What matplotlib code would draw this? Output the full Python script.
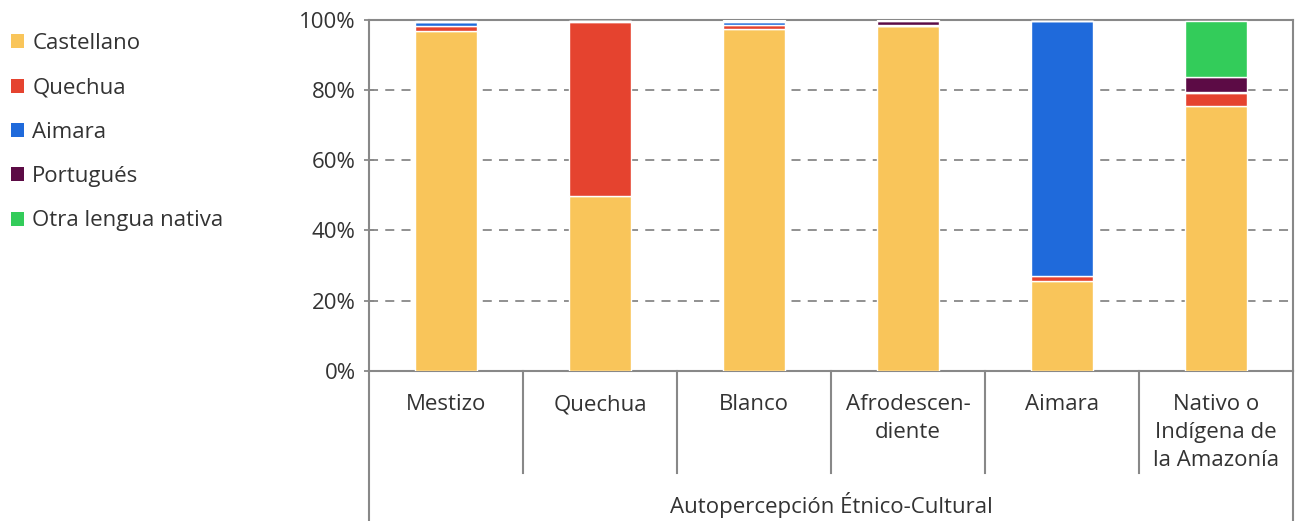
import matplotlib
matplotlib.use("Agg")
import matplotlib.pyplot as plt
import numpy as np
from matplotlib.lines import Line2D
from matplotlib.patches import Patch

categories = ["Mestizo", "Quechua", "Blanco", "Afrodescen-\ndiente", "Aimara",
              "Nativo o\nIndígena de\nla Amazonía"]
series_names = ["Castellano", "Quechua", "Aimara", "Portugués", "Otra lengua nativa"]
castellano = [96.6, 49.9, 97.4, 98.1, 25.7, 75.3]
quechua = [1.6, 49.4, 1.0, 0.1, 1.2, 3.9]
aimara = [1.0, 0.2, 1.0, 0.1, 72.8, 0.1]
portugues = [0.2, 0.1, 0.2, 1.4, 0.0, 4.3]
otra = [0.3, 0.1, 0.2, 0.1, 0.0, 16.0]
colors = ["#F9C55A", "#E5432F", "#1F6ADB", "#5C0B45", "#33CC5A"]
yticks = [0, 20, 40, 60, 80, 100]
xlabel = "Autopercepción Étnico-Cultural"

plt.rcParams['font.family'] = ['Open Sans', 'DejaVu Sans']
txt = "#333333"
FS = 16
W, H = 1297, 521
fig = plt.figure(figsize=(W / 100, H / 100), dpi=100)
ax = fig.add_axes([369 / W, 1 - 371 / H, (1293 - 369) / W, (371 - 19.5) / H])

x = np.arange(len(categories))
bottom = np.zeros(len(categories))
for vals, c, name in zip([castellano, quechua, aimara, portugues, otra], colors, series_names):
    ax.bar(x, vals, 0.4, bottom=bottom, color=c, edgecolor="white", linewidth=1.0, zorder=3, label=name)
    bottom += np.array(vals)

ax.set_xlim(-0.5, len(categories) - 0.5)
ax.set_ylim(0, 100)
ax.set_yticks(yticks)
ax.set_yticklabels([f"{v}%" for v in yticks], fontsize=FS, color=txt)
ax.set_xticks([])
for v in yticks[1:-1]:
    ax.axhline(v, color="#888888", lw=1.3, ls=(0, (5, 4)), zorder=1)
for s in ["left", "right", "top", "bottom"]:
    ax.spines[s].set_color("#888888")
    ax.spines[s].set_linewidth(1.5)
ax.tick_params(axis="y", length=7, width=1.3, color="#888888", direction="inout", pad=6)

def fy(pix):
    return 1 - pix / H
trans = matplotlib.transforms.blended_transform_factory(ax.transData, fig.transFigure)
for b in np.arange(0.5, len(categories) - 0.5, 1.0):
    fig.add_artist(Line2D([b, b], [fy(371), fy(473)], transform=trans, color="#888888", lw=1.5))
for b in [-0.5, len(categories) - 0.5]:
    fig.add_artist(Line2D([b, b], [fy(371), fy(521)], transform=trans, color="#888888", lw=1.5))
for i, c in enumerate(categories):
    fig.text(i, fy(394), c, transform=trans, ha="center", va="top", fontsize=FS,
             color=txt, linespacing=1.45)
fig.text(0.5 * (len(categories) - 1), fy(505), xlabel, transform=trans, ha="center",
         va="center", fontsize=FS, color=txt)

handles = [Patch(facecolor=c, edgecolor="none") for c in colors]
leg = fig.legend(handles, series_names, loc="upper left", bbox_to_anchor=(0.0, 1 - 22 / H),
                 frameon=False, fontsize=FS, handlelength=0.6, handleheight=0.6,
                 handletextpad=0.35, labelspacing=1.05, borderaxespad=0, borderpad=0.5)
for t in leg.get_texts():
    t.set_color(txt)

fig.savefig("out.png", dpi=100)
